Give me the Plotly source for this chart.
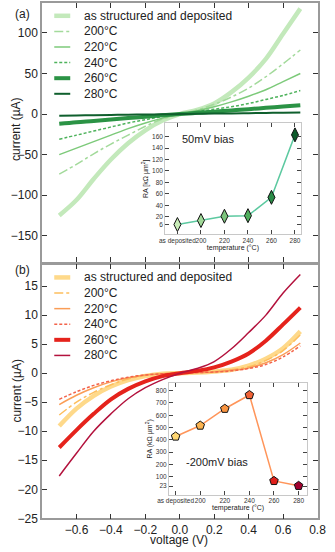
import plotly.graph_objects as go

# bias voltage (V)
voltage = [-0.7, -0.6, -0.5, -0.4, -0.3, -0.2, -0.1, 0.0, 0.1, 0.2, 0.3, 0.4, 0.5, 0.6, 0.7]
series_names = ["as structured and deposited", "200°C", "220°C", "240°C", "260°C", "280°C"]

# (a) current in µA
a_asdep = [-125, -106, -80, -56, -36, -20, -8, 0, 5, 13, 27, 45, 68, 99, 130]
a_200 = [-74, -62, -49, -37, -26, -15, -6, 0, 5, 12, 21, 32, 46, 62, 79]
a_220 = [-50, -42, -34, -26, -18, -11, -5, 0, 4, 9, 15, 22, 30, 40, 50]
a_240 = [-31, -26, -21, -16, -11, -7, -3, 0, 3, 6, 9, 13, 18, 23, 29]
a_260 = [-12, -10, -8.5, -6.8, -5, -3.3, -1.6, 0, 1.5, 3, 4.5, 6, 7.7, 9.3, 11]
a_280 = [-2, -1.7, -1.4, -1.1, -0.8, -0.6, -0.3, 0, 0.3, 0.6, 0.8, 1.1, 1.4, 1.7, 2]

# (b) current in µA
b_asdep = [-9.1, -6.1, -3.9, -2.3, -1.2, -0.5, -0.1, 0, 0.1, 0.3, 0.6, 1.3, 2.5, 4.3, 7.2]
b_200 = [-7.2, -5.0, -3.3, -2.0, -1.0, -0.4, -0.1, 0, 0.1, 0.3, 0.6, 1.1, 2.2, 3.9, 6.6]
b_220 = [-5.4, -3.8, -2.5, -1.5, -0.8, -0.3, -0.1, 0, 0.1, 0.2, 0.5, 0.9, 1.8, 3.2, 5.2]
b_240 = [-4.5, -3.2, -2.1, -1.3, -0.7, -0.3, -0.1, 0, 0.1, 0.2, 0.4, 0.8, 1.5, 2.8, 4.7]
b_260 = [-12.8, -9.8, -7.0, -4.5, -2.7, -1.4, -0.5, 0, 0.4, 1.0, 2.0, 3.4, 5.6, 8.4, 11.3]
b_280 = [-17.7, -13.8, -10.0, -7.0, -4.4, -2.5, -1.1, 0, 0.8, 2.0, 4.2, 7.0, 10.0, 13.8, 17.0]

# insets: resistance-area product (kΩ µm²)
temps = ["as deposited", "200", "220", "240", "260", "280"]
ra_50mv = [6.5, 13.5, 21, 22, 54, 163]
ra_m200mv = [427, 516, 653, 765, 65, 25]
ra_50mv_ticks = [6, 20, 40, 60, 80, 100, 120, 140, 160]
ra_m200mv_ticks = [23, 100, 200, 300, 400, 500, 600, 700, 800]

greens = ["#c3e9bb", "#a3da9b", "#7dca7a", "#4db25b", "#2b9345", "#0f5f2d"]
reds = ["#fed98a", "#fdbe5d", "#fa9d56", "#f3634a", "#e5231c", "#b3123d"]
green_marks = ["#c8ecb8", "#a0d898", "#7cc47c", "#4fae5c", "#2a8c47", "#0c5a2a"]
red_marks = ["#ffd772", "#fcb450", "#f99440", "#f26236", "#df1f1a", "#a2002e"]
dashes = ["solid", "dashdot", "solid", "3px,2px", "solid", "solid"]
widths_a = [4.5, 1.5, 1.5, 1.5, 4, 2]
widths_b = [4.5, 1.5, 1.5, 1.5, 4, 1.5]

FONT = "Liberation Sans, Arial, sans-serif"
W, H = 335, 552

fig = go.Figure()

for name, ys, col, dsh, wd in zip(series_names, [a_asdep, a_200, a_220, a_240, a_260, a_280],
                                  greens, dashes, widths_a):
    fig.add_trace(go.Scatter(x=voltage, y=ys, name=name, mode="lines", line_shape="spline",
                             line=dict(color=col, width=wd, dash=dsh),
                             xaxis="x2", yaxis="y2", showlegend=False))

for name, ys, col, dsh, wd in zip(series_names, [b_asdep, b_200, b_220, b_240, b_260, b_280],
                                  reds, dashes, widths_b):
    fig.add_trace(go.Scatter(x=voltage, y=ys, name=name, mode="lines", line_shape="spline",
                             line=dict(color=col, width=wd, dash=dsh),
                             xaxis="x", yaxis="y", showlegend=False))

pos = list(range(len(temps)))
fig.add_trace(go.Scatter(x=pos, y=ra_50mv, mode="lines+markers", showlegend=False,
                         line=dict(color="#5cc9a0", width=1.5),
                         marker=dict(symbol="diamond-tall", size=10, color=green_marks,
                                     line=dict(color="#111", width=1)),
                         xaxis="x3", yaxis="y3"))
fig.add_trace(go.Scatter(x=pos, y=ra_m200mv, mode="lines+markers", showlegend=False,
                         line=dict(color="#ff955a", width=1.5),
                         marker=dict(symbol="pentagon", size=9, color=red_marks,
                                     line=dict(color="#111", width=1)),
                         xaxis="x4", yaxis="y4"))


def px_x(a, b):
    return [a / W, b / W]


def px_y(top, bot):
    return [1 - bot / H, 1 - top / H]


main_ax = dict(ticks="inside", mirror="ticks", showline=True, linecolor="#9a9a9a", linewidth=1.5,
               tickcolor="#333", ticklen=5, showgrid=False, zeroline=False,
               tickfont=dict(size=12, color="#222"))
ins_ax = dict(ticks="inside", mirror="ticks", showline=True, linecolor="#c8c8c8", linewidth=1,
              tickcolor="#444", ticklen=4, showgrid=False, zeroline=False,
              tickfont=dict(size=6.5, color="#333"))
xticks = [-0.6, -0.4, -0.2, 0.0, 0.2, 0.4, 0.6, 0.8]

fig.update_layout(
    width=W, height=H, margin=dict(l=0, r=0, t=0, b=0),
    paper_bgcolor="white", plot_bgcolor="white",
    font=dict(family=FONT, size=12, color="#222"),
    showlegend=False,
    xaxis=dict(main_ax, domain=px_x(33, 326), range=[-0.8, 0.8], anchor="y",
               tickvals=xticks, tickformat=".1f"),
    yaxis=dict(main_ax, domain=px_y(268, 525), range=[-25, 18.7], anchor="x",
               tickvals=[-25, -20, -15, -10, -5, 0, 5, 10, 15]),
    xaxis2=dict(main_ax, domain=px_x(33, 326), range=[-0.8, 0.8], anchor="y2",
                tickvals=xticks, showticklabels=False),
    yaxis2=dict(main_ax, domain=px_y(3, 265), range=[-182, 137], anchor="x2",
                tickvals=[-150, -100, -50, 0, 50, 100]),
    xaxis3=dict(ins_ax, domain=px_x(164, 308), range=[-0.52, 5.24], anchor="y3",
                tickvals=pos, ticktext=temps, tickangle=0,
                title=dict(text="temperature (°C)", standoff=0, font=dict(size=7))),
    yaxis3=dict(ins_ax, domain=px_y(125, 237), range=[-10, 183], anchor="x3",
                tickvals=ra_50mv_ticks,
                title=dict(text="RA [kΩ µm<sup>2</sup>]", standoff=2, font=dict(size=7))),
    xaxis4=dict(ins_ax, domain=px_x(168, 315), range=[-0.27, 5.35], anchor="y4",
                tickvals=pos, ticktext=temps, tickangle=0,
                title=dict(text="temperature (°C)", standoff=0, font=dict(size=7))),
    yaxis4=dict(ins_ax, domain=px_y(388, 501), range=[-47, 862], anchor="x4",
                tickvals=ra_m200mv_ticks,
                title=dict(text="RA (kΩ µm<sup>2</sup>)", standoff=2, font=dict(size=7))),
)

# hand-drawn legends, compact like the original
for panel_top, cols, widths in [(16, greens, widths_a), (281, reds, widths_b)]:
    for i, (name, col, dsh, wd) in enumerate(zip(series_names, cols, dashes, widths)):
        yy = 1 - (panel_top + i * 15.8) / H
        fig.add_shape(type="line", xref="paper", yref="paper", x0=46 / W, x1=63 / W,
                      y0=yy, y1=yy, line=dict(color=col, width=wd, dash=dsh))
        fig.add_annotation(text=name, xref="paper", yref="paper", x=75 / W, y=yy,
                           xanchor="left", yanchor="middle", showarrow=False,
                           font=dict(size=12, color="#222"))

paper_notes = [("(a)", 12, 14, 0), ("(b)", 12, 273, 0),
               ("current (µA)", 6, 131, -90), ("current (µA)", 6, 396, -90),
               ("voltage (V)", 179, 547, 0)]
for txt, px, py, ang in paper_notes:
    fig.add_annotation(text=txt, xref="paper", yref="paper", x=px / W, y=1 - py / H,
                       xanchor="center", yanchor="middle", textangle=ang,
                       showarrow=False, font=dict(size=12))

fig.add_annotation(text="50mV bias", xref="x3", yref="y3", x=1.3, y=155,
                   xanchor="center", yanchor="middle", showarrow=False, font=dict(size=11))
fig.add_annotation(text="-200mV bias", xref="x4", yref="y4", x=1.7, y=218,
                   xanchor="center", yanchor="middle", showarrow=False, font=dict(size=11))

# the page's default body margin would push the figure off the window
fig.write_html("out.html", config={"displayModeBar": False},
               post_script="document.body.style.margin='0px';")
